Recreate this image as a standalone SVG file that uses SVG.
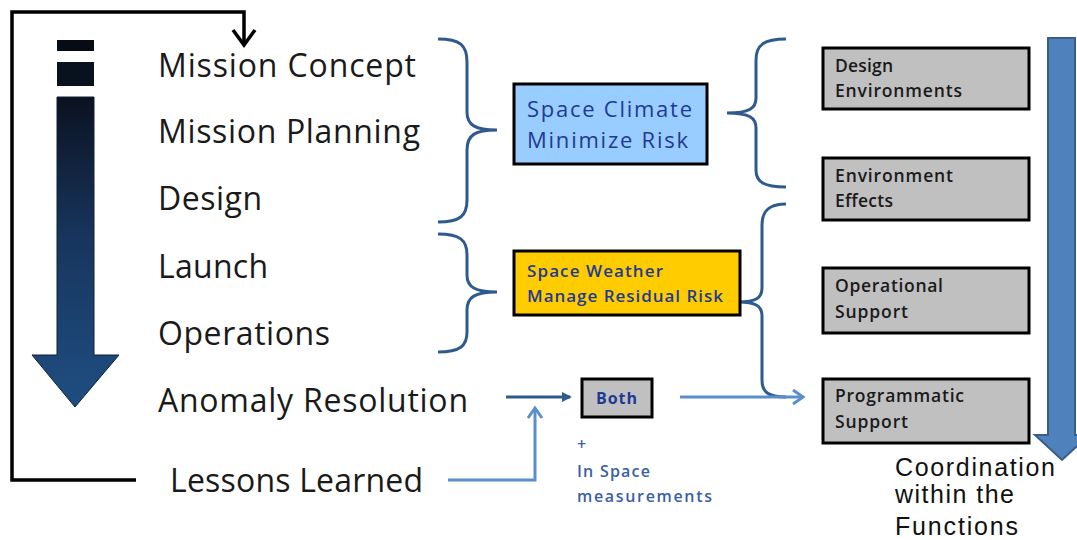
<svg xmlns="http://www.w3.org/2000/svg" width="1077" height="540" viewBox="0 0 1077 540">
<defs>
<linearGradient id="g" x1="0" y1="0" x2="0" y2="1" gradientUnits="objectBoundingBox">
<stop offset="0" stop-color="#0b1220"/>
<stop offset="0.45" stop-color="#17355d"/>
<stop offset="1" stop-color="#1f4e82"/>
</linearGradient>
</defs>
<style>
.lt{font-family:"Open Sans","Noto Sans",sans-serif;font-size:32px;fill:#1a1a1a}
.br{fill:none;stroke:#2e5a8e;stroke-width:3}
.box{stroke:#000;stroke-width:3}
.gb{fill:#c0c0c0;stroke:#000;stroke-width:3}
.bt{font-family:"Open Sans","Noto Sans",sans-serif;font-size:17.5px;font-weight:600;fill:#1a1a1a}
.bl{font-family:"Open Sans","Noto Sans",sans-serif;fill:#1f3a93}
.ct{font-family:"Liberation Sans",Arial,sans-serif;font-size:25px;fill:#111}
.ms{font-family:"Open Sans","Noto Sans",sans-serif;font-size:16px;font-weight:600;fill:#3a5fa8}
</style>
<rect width="1077" height="540" fill="#fff"/>

<g id="flow-arrow">
<rect x="57" y="40" width="37" height="11" fill="#060b16"/>
<rect x="57" y="62" width="37" height="24" fill="#08121f"/>
<path d="M57,97 L94,97 L94,355 L119,355 L75,407 L32,355 L57,355 Z" fill="url(#g)" stroke="#0e2036" stroke-width="1"/>
</g>

<g id="lifecycle">
<text class="lt" x="158" y="77" textLength="258">Mission Concept</text>
<text class="lt" x="158" y="143" textLength="262">Mission Planning</text>
<text class="lt" x="158" y="210" textLength="104">Design</text>
<text class="lt" x="158" y="278" textLength="110">Launch</text>
<text class="lt" x="158" y="345" textLength="172">Operations</text>
<text class="lt" x="158" y="412" textLength="310">Anomaly Resolution</text>
<text class="lt" x="170" y="492" textLength="253">Lessons Learned</text>
</g>

<g id="braces">
<path class="br" d="M438,39 C460,39 467,45 467,62 L467,112 C467,125 475,130 497,130 C475,130 467,135 467,150 L467,200 C467,216 460,222 438,222"/>
<path class="br" d="M438,234 C460,234 467,240 467,255 L467,275 C467,287 475,292 497,292 C475,292 467,297 467,310 L467,332 C467,346 460,352 438,352"/>
<path class="br" d="M786,39 C764,39 756,45 756,60 L756,98 C756,108 750,113 727,113 C750,113 756,118 756,128 L756,170 C756,182 764,187 786,187"/>
<path class="br" d="M786,204 C770,204 762,210 762,225 L762,288 C762,298 756,302 738,302 C756,302 762,306 762,316 L762,380 C762,392 768,397 786,397"/>
</g>

<g id="space-climate">
<rect class="box" x="514" y="84" width="193" height="80" fill="#99ccff"/>
<text class="bl" x="527" y="117" font-size="22" textLength="165">Space Climate</text>
<text class="bl" x="527" y="148" font-size="22" textLength="161">Minimize Risk</text>
</g>

<g id="space-weather">
<rect class="box" x="514" y="251" width="226" height="64" fill="#ffcc00"/>
<text class="bl" x="527" y="277" font-size="17" font-weight="600" textLength="136">Space Weather</text>
<text class="bl" x="527" y="302" font-size="17" font-weight="600" textLength="196">Manage Residual  Risk</text>
</g>

<g id="both">
<rect class="gb" x="582" y="379" width="70" height="38"/>
<text class="bl" x="596" y="404" font-size="16" font-weight="bold" textLength="41">Both</text>
</g>

<g id="in-space">
<text class="ms" x="577" y="450">+</text>
<text class="ms" x="577" y="477" textLength="73">In Space</text>
<text class="ms" x="577" y="502" textLength="135">measurements</text>
</g>

<g id="design-environments">
<rect class="gb" x="823" y="48" width="206" height="61"/>
<text class="bt" x="835" y="72" textLength="58">Design</text>
<text class="bt" x="835" y="97" textLength="127">Environments</text>
</g>
<g id="environment-effects">
<rect class="gb" x="823" y="158" width="206" height="62"/>
<text class="bt" x="835" y="182" textLength="118">Environment</text>
<text class="bt" x="835" y="207" textLength="58">Effects</text>
</g>
<g id="operational-support">
<rect class="gb" x="823" y="268" width="206" height="65"/>
<text class="bt" x="835" y="292" textLength="108">Operational</text>
<text class="bt" x="835" y="318" textLength="73">Support</text>
</g>
<g id="programmatic-support">
<rect class="gb" x="823" y="379" width="206" height="64"/>
<text class="bt" x="835" y="402" textLength="129">Programmatic</text>
<text class="bt" x="835" y="428" textLength="73">Support</text>
</g>

<g id="coordination">
<path d="M1048,38 L1075,38 L1075,435 L1089,435 L1062,460 L1035,435 L1048,435 Z" fill="#4f81bd" stroke="#385d8a" stroke-width="2"/>
<text class="ct" x="895" y="476" textLength="160">Coordination</text>
<text class="ct" x="895" y="503" textLength="119">within the</text>
<text class="ct" x="895" y="535" textLength="123">Functions</text>
</g>

<g id="connectors">
<path d="M136,480 L12,480 L12,12 L244,12 L244,44" fill="none" stroke="#000" stroke-width="3.5"/>
<path d="M233,30 L244,45 L255,30" fill="none" stroke="#000" stroke-width="3.5"/>
<line x1="506" y1="397" x2="570" y2="397" stroke="#2e5a8e" stroke-width="3"/>
<path d="M562,392 L572,397 L562,402 Z" fill="#2e5a8e"/>
<path d="M448,480 L535,480 L535,410" fill="none" stroke="#5b8fcb" stroke-width="3"/>
<path d="M528,418 L535,408 L542,418" fill="none" stroke="#5b8fcb" stroke-width="3"/>
<line x1="680" y1="397" x2="802" y2="397" stroke="#5b8fcb" stroke-width="3"/>
<path d="M793,390 L803,397 L793,404" fill="none" stroke="#5b8fcb" stroke-width="3"/>
</g>
</svg>
